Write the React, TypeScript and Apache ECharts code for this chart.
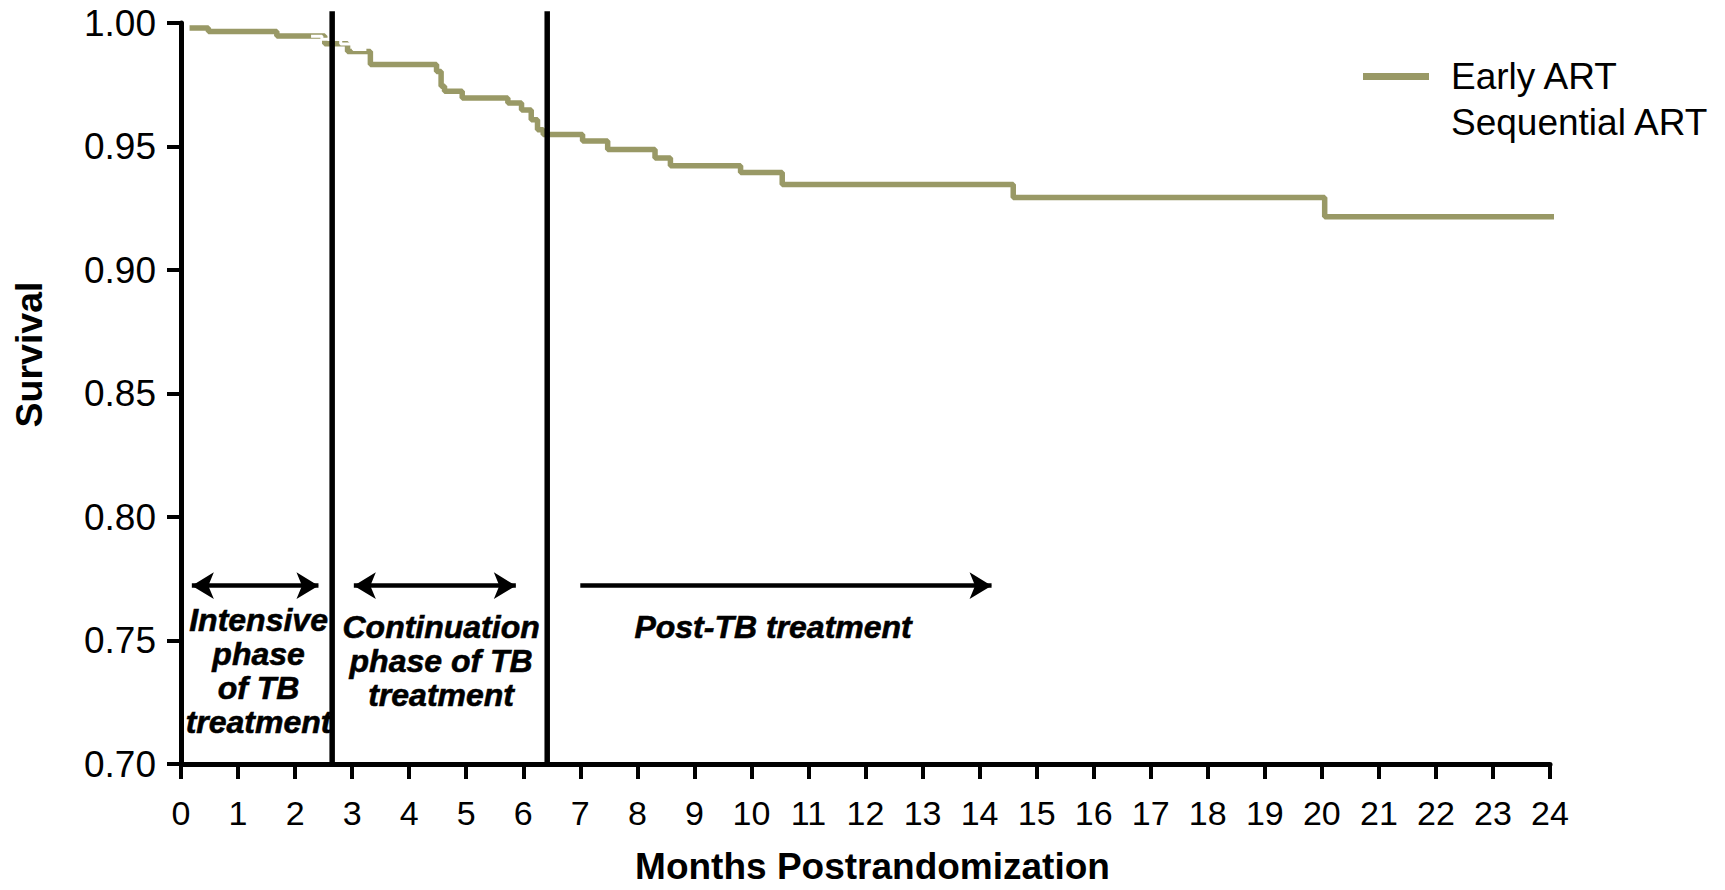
import React, { useEffect, useRef } from "react";
import * as echarts from "echarts";

// Kaplan-Meier step points: time (months) where survival changes, survival after that time
const EARLY_T = [0.15, 0.48, 1.68, 2.52, 2.92, 3.32, 4.48, 4.56, 4.62, 4.93, 5.73, 5.97, 6.14, 6.25, 6.35, 7.04, 7.48, 8.31, 8.58, 9.81, 10.54, 14.59, 20.05, 24.15];
const EARLY_S = [0.998, 0.9966, 0.9947, 0.9916, 0.9885, 0.9832, 0.9804, 0.9744, 0.9724, 0.9696, 0.9676, 0.9648, 0.9608, 0.9568, 0.9549, 0.9522, 0.9488, 0.9453, 0.9422, 0.9395, 0.9346, 0.9294, 0.9216, 0.9218];

// Sequential ART curve is drawn in white: only visible where it overlaps the Early ART curve
const SEQ_T = [2.28, 2.47, 2.8, 3.02, 3.25];
const SEQ_S = [0.9946, 0.9934, 0.9915, 0.9893, 0.9893];

const SERIES_NAMES = ["Early ART", "Sequential ART"];

// Treatment phase boundaries (months)
const PHASE_LINES = [2.65, 6.42];

// Phase arrows (months) and their level on the survival axis
const ARROW_FROM = [0.16, 3.0, 7.0];
const ARROW_TO = [2.44, 5.9, 14.24];
const ARROW_BOTH = [true, true, false];
const ARROW_Y = 0.7722;

// Phase annotations
const ANNOT_TEXT = ["Intensive\nphase\nof TB\ntreatment", "Continuation\nphase of TB\ntreatment", "Post-TB treatment"];
const ANNOT_X = [1.36, 4.56, 10.38];
const ANNOT_Y = [0.7375, 0.7417, 0.7556];

const Y_TOP_LINE = 1.0048;

const FONT = "'Liberation Sans', Arial, Helvetica, sans-serif";
const GREEN = "#999966";

export default function App() {
  const ref = useRef<HTMLDivElement>(null);

  useEffect(() => {
    if (!ref.current) return;
    const chart = echarts.init(ref.current, undefined, { renderer: "svg" });

    const early = EARLY_T.map((t, i) => [t, EARLY_S[i]]);
    const seq = SEQ_T.map((t, i) => [t, SEQ_S[i]]);

    const arrowHalf = 0.03;
    const arrowData = ARROW_FROM.map((f, i) => [
      { coord: [ARROW_BOTH[i] ? f + arrowHalf : f, ARROW_Y], symbol: ARROW_BOTH[i] ? "arrow" : "none" },
      { coord: [ARROW_TO[i] - arrowHalf, ARROW_Y], symbol: "arrow" },
    ]);

    const phaseSeries = PHASE_LINES.map((x, i) => ({
      name: "phase" + i,
      type: "line",
      data: [
        [x, 0.7],
        [x, Y_TOP_LINE],
      ],
      symbol: "none",
      clip: false,
      silent: true,
      z: 10,
      lineStyle: { color: "#000", width: 5.5 },
    }));

    chart.setOption({
      animation: false,
      grid: { left: 181, right: 175, top: 23, bottom: 95, containLabel: false },
      legend: {
        data: SERIES_NAMES,
        orient: "vertical",
        left: 1358,
        top: 53,
        itemWidth: 66,
        itemHeight: 7,
        itemGap: 9,
        icon: "rect",
        selectedMode: false,
        textStyle: { fontSize: 37, lineHeight: 36, color: "#000", fontFamily: FONT, padding: [0, 0, 0, 17] },
      },
      xAxis: {
        type: "value",
        min: 0,
        max: 24,
        interval: 1,
        name: "Months Postrandomization",
        nameLocation: "middle",
        nameGap: 84,
        nameTextStyle: {
          fontSize: 37,
          fontWeight: "bold",
          color: "#000",
          fontFamily: FONT,
          padding: [0, 0, 0, 14],
        },
        axisLine: { show: true, onZero: false, lineStyle: { color: "#000", width: 5 } },
        axisTick: { show: true, length: 15, lineStyle: { color: "#000", width: 4 } },
        axisLabel: { fontSize: 34, color: "#000", margin: 32, fontFamily: FONT },
        splitLine: { show: false },
      },
      yAxis: {
        type: "value",
        min: 0.7,
        max: 1.0,
        interval: 0.05,
        name: "Survival",
        nameLocation: "middle",
        nameGap: 133,
        nameTextStyle: {
          fontSize: 37.5,
          fontWeight: "bold",
          color: "#000",
          fontFamily: FONT,
          padding: [0, 0, 0, 78],
        },
        axisLine: { show: true, lineStyle: { color: "#000", width: 5 } },
        axisTick: { show: true, length: 14, lineStyle: { color: "#000", width: 4 } },
        axisLabel: {
          fontSize: 37,
          color: "#000",
          margin: 25,
          fontFamily: FONT,
          formatter: (v: number) => v.toFixed(2),
        },
        splitLine: { show: false },
      },
      series: [
        {
          name: "annotations",
          type: "scatter",
          data: ANNOT_X.map((x, i) => [x, ANNOT_Y[i], ANNOT_TEXT[i]]),
          symbolSize: 0,
          silent: true,
          z: 1,
          itemStyle: { opacity: 1 },
          label: {
            show: true,
            position: "inside",
            formatter: (p: any) => p.value[2],
            fontSize: 32,
            lineHeight: 34,
            fontWeight: "bold",
            fontStyle: "italic",
            color: "#000",
            opacity: 1,
            textBorderColor: "#000",
            textBorderWidth: 0.6,
            fontFamily: FONT,
            align: "center",
          },
          markLine: {
            silent: true,
            symbolSize: [20, 22],
            label: { show: false },
            lineStyle: { color: "#000", width: 4.5, type: "solid", opacity: 1 },
            emphasis: { disabled: true },
            data: arrowData,
          },
        },
        {
          name: SERIES_NAMES[0],
          type: "line",
          step: "end",
          data: early,
          symbol: "none",
          clip: false,
          z: 3,
          color: GREEN,
          lineStyle: { color: GREEN, width: 5.5 },
        },
        {
          name: SERIES_NAMES[1],
          type: "line",
          step: "end",
          data: seq,
          symbol: "none",
          clip: false,
          z: 4,
          color: "#ffffff",
          lineStyle: { color: "#ffffff", width: 3 },
        },
        ...phaseSeries,
      ],
    });

    return () => chart.dispose();
  }, []);

  return (
    <div
      ref={ref}
      style={{ position: "absolute", left: 0, top: 0, width: 1725, height: 890, background: "#fff" }}
    />
  );
}
